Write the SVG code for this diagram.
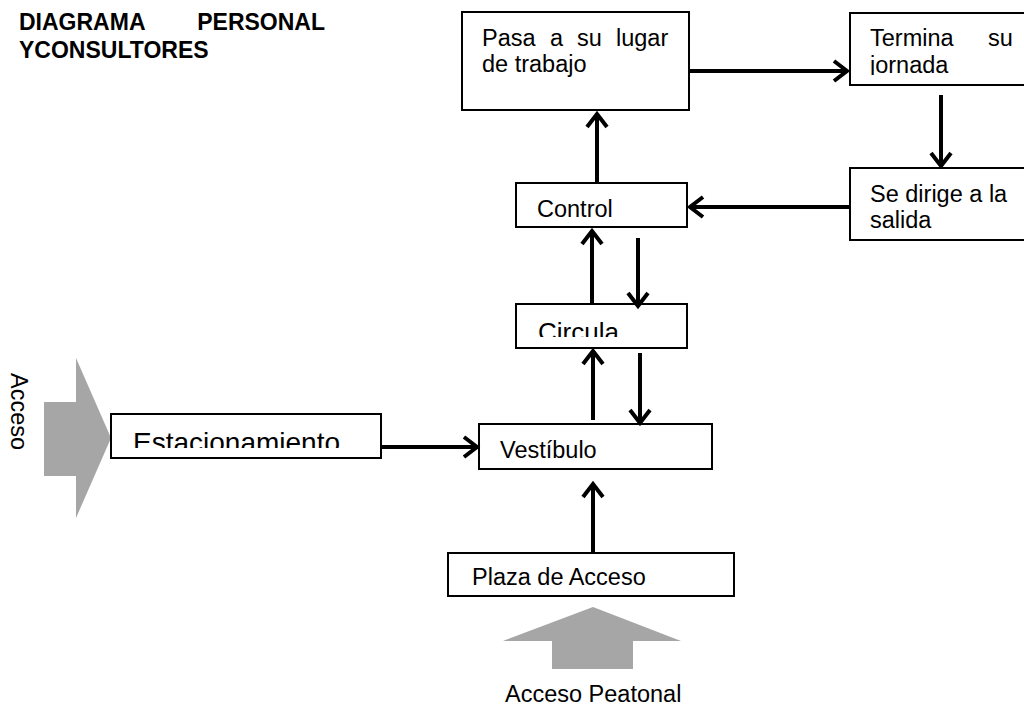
<svg xmlns="http://www.w3.org/2000/svg" width="1024" height="705" viewBox="0 0 1024 705">
<style>
.box{fill:#fff;stroke:#000;stroke-width:2}
.t{font-family:"Liberation Sans",Arial,sans-serif;font-size:23.5px;fill:#000}
.big{font-size:26px}
.est{font-size:28px}
.title{font-family:"Liberation Sans",Arial,sans-serif;font-size:23px;font-weight:bold;fill:#000}
.c{stroke:#000;stroke-width:4;fill:none;marker-end:url(#ah)}
.blk{fill:#a6a6a6}
</style>
<defs>
<marker id="ah" markerUnits="userSpaceOnUse" viewBox="-18 -14 22 28" markerWidth="22" markerHeight="28" refX="0" refY="0" orient="auto">
<path d="M-13,-10 L0,0 L-13,10" fill="none" stroke="#000" stroke-width="4"/>
</marker>
<clipPath id="cJ"><rect x="850" y="14" width="174" height="61"/></clipPath>
<clipPath id="cC"><rect x="517" y="305" width="171" height="32"/></clipPath>
<clipPath id="cE"><rect x="111" y="414" width="270" height="34"/></clipPath>
</defs>
<rect width="1024" height="705" fill="#fff"/>

<g id="title">
<text class="title" x="19" y="30">DIAGRAMA</text>
<text class="title" x="325" y="30" text-anchor="end">PERSONAL</text>
<text class="title" x="19" y="58">YCONSULTORES</text>
</g>

<g id="acceso-lateral">
<polygon class="blk" points="44,402 76,402 76,358 111,438 76,518 76,476 44,476"/>
<text class="t" transform="translate(11,373) rotate(90)">Acceso</text>
</g>

<g id="acceso-peatonal">
<polygon class="blk" points="552,669 552,641 503,641 593,607 681,641 633,641 633,669"/>
<text class="t" x="505" y="702">Acceso Peatonal</text>
</g>

<g id="pasa">
<rect class="box" x="462" y="12" width="227" height="98"/>
<text class="t" x="482" y="46">Pasa</text>
<text class="t" x="550" y="46">a</text>
<text class="t" x="577" y="46">su</text>
<text class="t" x="616" y="46">lugar</text>
<text class="t" x="482" y="72">de trabajo</text>
</g>

<g id="termina">
<rect class="box" x="850" y="13" width="190" height="72"/>
<text class="t" x="870" y="46">Termina</text>
<text class="t" x="988" y="46">su</text>
<text class="t" x="870" y="73" clip-path="url(#cJ)">jornada</text>
</g>

<g id="salida">
<rect class="box" x="850" y="168" width="190" height="72"/>
<text class="t" x="870" y="202">Se dirige a la</text>
<text class="t" x="870" y="228">salida</text>
</g>

<g id="control">
<rect class="box" x="516" y="183" width="171" height="44"/>
<text class="t" x="537" y="217">Control</text>
</g>

<g id="circula">
<rect class="box" x="516" y="304" width="171" height="44"/>
<text class="t big" x="538" y="341" clip-path="url(#cC)">Circula</text>
</g>

<g id="vestibulo">
<rect class="box" x="479" y="424" width="233" height="45"/>
<text class="t" x="500" y="458">Vestíbulo</text>
</g>

<g id="estacionamiento">
<rect class="box" x="111" y="414" width="270" height="44"/>
<text class="t est" x="133" y="452" clip-path="url(#cE)">Estacionamiento</text>
</g>

<g id="plaza">
<rect class="box" x="448" y="553" width="286" height="43"/>
<text class="t" x="472" y="585">Plaza de Acceso</text>
</g>

<g id="connectors">
<line class="c" x1="689" y1="71" x2="847" y2="71"/>
<line class="c" x1="941" y1="95" x2="941" y2="166"/>
<line class="c" x1="850" y1="207" x2="690" y2="207"/>
<line class="c" x1="597" y1="183" x2="597" y2="114"/>
<line class="c" x1="592" y1="304" x2="592" y2="231"/>
<line class="c" x1="638" y1="238" x2="638" y2="306"/>
<line class="c" x1="593" y1="420" x2="593" y2="351"/>
<line class="c" x1="640" y1="353" x2="640" y2="423"/>
<line class="c" x1="381" y1="447" x2="477" y2="447"/>
<line class="c" x1="593" y1="553" x2="593" y2="484"/>
</g>
</svg>
